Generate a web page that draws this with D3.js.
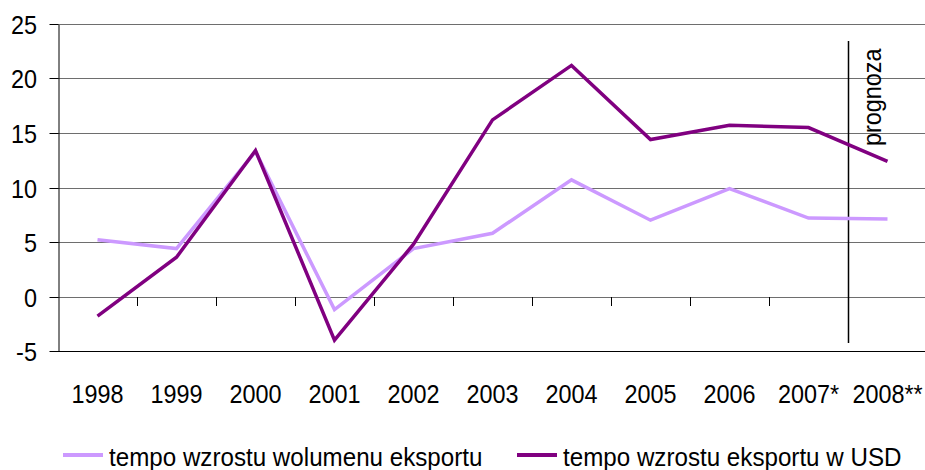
<!DOCTYPE html>
<html lang="pl">
<head>
<meta charset="utf-8">
<script src="https://d3js.org/d3.v7.min.js"></script>
<style>
    body { margin: 0; background: #fff; }
    text { font-family: "Liberation Sans", Arial, sans-serif; font-size: 26px; fill: #000; }
</style>
</head>
<body>
<svg id="chart"></svg>
<script>
// Data
var years = ["1998", "1999", "2000", "2001", "2002", "2003", "2004", "2005", "2006", "2007*", "2008**"];
var volumeGrowth = [5.2, 4.4, 13.3, -1.2, 4.4, 5.8, 10.7, 7.0, 9.9, 7.2, 7.1];
var usdGrowth = [-1.8, 3.6, 13.4, -4.0, 4.8, 16.2, 21.2, 14.4, 15.7, 15.5, 12.4];
var yTicks = [-5, 0, 5, 10, 15, 20, 25];
var seriesNames = ["tempo wzrostu wolumenu eksportu", "tempo wzrostu eksportu w USD"];
var forecastLabel = "prognoza";

var width = 925, height = 470;
var plotLeft = 58, plotRight = 927, plotTop = 24, plotBottom = 351;
var squeeze = "scale(0.9,1)";

var svg = d3.select("#chart").attr("width", width).attr("height", height);

var x = d3.scaleBand().domain(years).range([plotLeft, plotRight]);
var y = d3.scaleLinear().domain([-5, 25]).range([plotBottom, plotTop]);

// horizontal gridlines
svg.append("g").selectAll("line")
    .data(yTicks)
    .enter().append("line")
    .attr("x1", plotLeft).attr("x2", width)
    .attr("y1", function(d) { return Math.round(y(d)) + 0.5; })
    .attr("y2", function(d) { return Math.round(y(d)) + 0.5; })
    .style("stroke", function(d) { return d == -5 ? "#000" : "#6e6e6e"; })
    .style("stroke-width", 1);

// y axis
var yAxis = svg.append("g")
    .attr("transform", "translate(" + (plotLeft + 0.5) + ",0.5)")
    .call(d3.axisLeft(y).tickValues(yTicks).tickSize(9).tickPadding(15).tickSizeOuter(0)
        .tickFormat(function(d) { return String(d); }));
yAxis.select(".domain").style("stroke", "#000");
yAxis.selectAll(".tick line").style("stroke", "#000");
yAxis.selectAll("text")
    .attr("font-size", 26)
    .attr("font-family", "Liberation Sans, Arial, sans-serif")
    .attr("dy", "0.36em")
    .attr("transform", squeeze);
yAxis.selectAll(".tick").attr("transform", function(d) { return "translate(0," + Math.round(y(d)) + ")"; });

// category ticks on the zero line
svg.append("g").selectAll("line")
    .data(years.slice(1))
    .enter().append("line")
    .attr("x1", function(d) { return Math.round(x(d)) + 0.5; })
    .attr("x2", function(d) { return Math.round(x(d)) + 0.5; })
    .attr("y1", Math.round(y(0)))
    .attr("y2", Math.round(y(0)) + 9)
    .style("stroke", "#000");

// category labels
svg.append("g").selectAll("text")
    .data(years)
    .enter().append("text")
    .attr("transform", function(d) { return "translate(" + (x(d) + x.bandwidth() / 2) + ",403) " + squeeze; })
    .attr("text-anchor", "middle")
    .text(function(d) { return d; });

// forecast separator
var sepX = Math.round(x("2008**")) + 0.5;
svg.append("line")
    .attr("x1", sepX).attr("x2", sepX)
    .attr("y1", 41).attr("y2", 343)
    .style("stroke", "#000")
    .style("stroke-width", 1.5);
svg.append("text")
    .attr("transform", "translate(" + (sepX + 32) + ",146) rotate(-90) " + squeeze)
    .text(forecastLabel);

// lines
var line = d3.line()
    .x(function(d, i) { return x(years[i]) + x.bandwidth() / 2; })
    .y(function(d) { return y(d); });

var colors = ["#cc99ff", "#800080"];
[volumeGrowth, usdGrowth].forEach(function(vals, k) {
    svg.append("path")
        .datum(vals)
        .attr("d", line)
        .style("fill", "none")
        .style("stroke", colors[k])
        .style("stroke-width", 3.5)
        .style("stroke-linejoin", "miter");
});

// legend
var legendX = [63, 517];
var legend = svg.append("g").selectAll("g")
    .data(seriesNames)
    .enter().append("g")
    .attr("transform", function(d, i) { return "translate(" + legendX[i] + ",455)"; });
legend.append("line")
    .attr("x1", 0).attr("x2", 40)
    .style("stroke", function(d, i) { return colors[i]; })
    .style("stroke-width", 4);
legend.append("text")
    .attr("transform", "translate(46,11) scale(0.93,1)")
    .text(function(d) { return d; });
</script>
</body>
</html>
